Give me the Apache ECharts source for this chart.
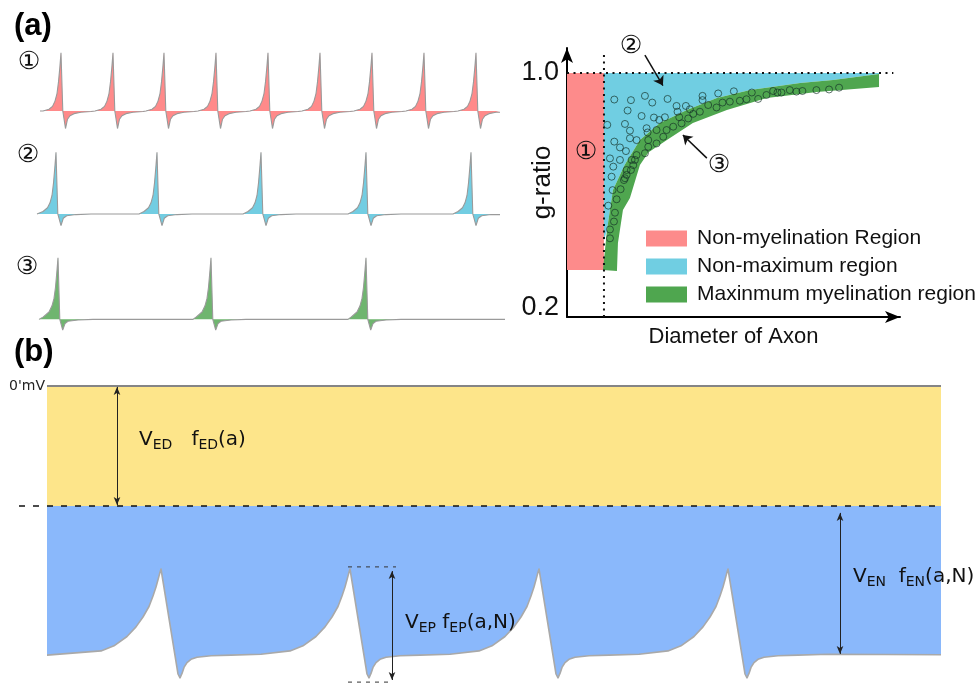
<!DOCTYPE html>
<html><head><meta charset="utf-8">
<script src="https://cdn.jsdelivr.net/npm/echarts@6/dist/echarts.min.js"></script>
<style>html,body{margin:0;padding:0;background:#fff}#c{width:980px;height:684px}</style>
</head><body><div id="c"></div>
<script>
// ---------- (a) left: spike trains (time units, normalised voltage) ----------
const row1Span = [5, 465];
const row1Peaks = [26, 78, 129, 181, 233, 285, 337, 389, 441];
const row1Shape = [[-18,0],[-12,0.03],[-8.5,0.08],[-6,0.17],[-4,0.3],[-2.5,0.5],[-1.2,0.74],[0,1],[1.8,0],[4.5,-0.3],[6.5,-0.14],[9,-0.08],[13,-0.045],[20,-0.022],[30,-0.008]];
const row2Span = [2, 465];
const row2Peaks = [21, 122, 226, 331, 436];
const row2Shape = [[-18,0],[-13,0.04],[-8.5,0.1],[-6,0.18],[-4,0.3],[-2.5,0.5],[-1.2,0.75],[0,1],[1.8,0],[5,-0.19],[7.3,-0.07],[10.7,-0.03],[20,-0.01],[35,0]];
const row3Span = [4, 470];
const row3Peaks = [23, 176, 331];
const row3Shape = [[-18,0],[-14.7,0.04],[-9,0.12],[-6,0.22],[-4,0.34],[-2.5,0.52],[-1.2,0.76],[0,1],[1.8,0],[4.7,-0.175],[7,-0.07],[10,-0.03],[20,-0.01],[35,0]];

// ---------- (a) right: g-ratio vs diameter ----------
const gAxisRange = [0.2, 1.082];
const dAxisRange = [0, 100];
const gTicks = [0.2, 1.0];
const gLimit = 1.0;
const dCut = 11.1;                 // dotted vertical divider
const nonMyelinG = [0.354, 1.0];
const limitLineEnd = 98;
const dividerTop = 1.069;
const bandUpper = [[10.8,0.354],[12.0,0.485],[13.8,0.616],[17.3,0.698],[21.9,0.78],[27.9,0.836],[36,0.879],[45,0.918],[55,0.944],[70,0.967],[79.9,0.977],[93.7,0.997]];
const bandLower = [[15,0.351],[15.3,0.443],[16.8,0.551],[18.9,0.59],[21.9,0.698],[24.5,0.74],[30,0.78],[37.8,0.836],[48,0.879],[60,0.918],[75,0.938],[93.7,0.954]];
const circlesCyan = [[14.2,0.913],[19.2,0.911],[23.4,0.925],[25.6,0.903],[30.2,0.915],[32.9,0.892],[35.7,0.892],[36.9,0.881],[40.7,0.925],[40.7,0.911],[45.4,0.933],[50.1,0.94],[18.2,0.877],[22.4,0.859],[26.1,0.854],[27.7,0.846],[29.4,0.855],[33.2,0.873],[33.7,0.855],[12.1,0.83],[17.4,0.833],[18.9,0.811],[23.9,0.819],[24.2,0.805],[26.9,0.813],[18.9,0.786],[20.9,0.78],[24.4,0.78],[14.2,0.775],[15.9,0.756],[17.7,0.744],[20.9,0.731],[19.4,0.715],[12.9,0.72],[15.9,0.715],[13.9,0.693],[17.9,0.682],[13.4,0.66],[17.4,0.655],[13.7,0.616],[12.4,0.565]];
const circlesGreen = [[12.9,0.487],[12.9,0.458],[14.1,0.513],[14.4,0.542],[14.9,0.586],[16.1,0.619],[17.1,0.649],[17.9,0.666],[19.2,0.682],[19.9,0.698],[20.4,0.715],[23.4,0.737],[24.4,0.758],[26.9,0.769],[28.9,0.791],[29.9,0.813],[31.9,0.824],[34.4,0.835],[36.4,0.851],[37.9,0.866],[39.9,0.873],[42.4,0.895],[44.9,0.887],[46.7,0.903],[48.9,0.906],[51.9,0.909],[53.9,0.914],[55.5,0.936],[57.4,0.915],[59.9,0.928],[61.9,0.941],[63.2,0.936],[64.4,0.936],[66.9,0.944],[68.9,0.939],[70.7,0.941],[74.9,0.944],[78.7,0.946],[81.7,0.952]];
const arrow2 = [[23.4,1.059],[28.8,0.959]];
const arrow3 = [[42,0.721],[34.8,0.797]];
const legendNames = ['Non-myelination Region', 'Non-maximum region', 'Maxinmum myelination region'];

// ---------- (b) membrane potential ----------
const bTimeRange = [0, 894];
const bAxisX = [-28, 896];
const bAxisY = [-99, 2];
const vRest = 0;
const vED = -40;
const bPeaks = [114, 303, 492, 681];
const bStartV = -89.7, bEndV = -89.6;
const bSpikeShape = [[-60,-88.3],[-47,-86.6],[-34,-83.5],[-25,-80.3],[-18,-77],[-12,-73.5],[-8,-70],[-5,-67],[-3,-64.6],[-1.5,-62.7],[0,-61],[1,-61.5],[17,-96],[19,-97.3],[21,-95.8],[23,-93.8],[26,-92.2],[30,-91.1],[36,-90.4],[50,-89.9],[70,-89.7],[100,-89.4]];
const vepTop = -60.3, vepBottom = -98.7, vepDashT = [301, 349], vepArrowT = 345;
const vepArrowV = [-61.7, -98];
const vedArrowT = 70;
const venArrowT = 793, venArrowV = [-42.3, -89.3];

function buildTrain(span, peaks, shape) {
  const pts = [[span[0], 0]];
  peaks.forEach(p => shape.forEach(s => {
    const t = p + s[0];
    if (t > span[0] && t < span[1]) pts.push([t, s[1]]);
  }));
  pts.push([span[1], pts[pts.length - 1][1]]);
  return pts;
}
function buildWave() {
  const pts = [[bTimeRange[0], bStartV]];
  bPeaks.forEach(p => bSpikeShape.forEach(s => pts.push([p + s[0], s[1]])));
  pts.push([bTimeRange[1], bEndV]);
  return pts;
}

const RED = '#fd8b8b', CYAN = '#70cee2', GREEN = '#4fa64f';
const cyanPoly = [[dCut, gLimit], [bandUpper[bandUpper.length - 1][0], gLimit]].concat(bandUpper.slice().reverse().filter(p => p[0] >= dCut), [[dCut, 0.45]]);
const greenPoly = bandUpper.concat(bandLower.slice().reverse());

function polyRender(poly, color) {
  return (params, api) => params.dataIndex ? null : {
    type: 'polygon', shape: { points: poly.map(p => api.coord(p)) }, style: { fill: color }
  };
}
function rectRender(color) {
  return (params, api) => {
    const a = api.coord([api.value(0), api.value(3)]);
    const b = api.coord([api.value(1), api.value(2)]);
    return { type: 'rect', shape: { x: a[0], y: a[1], width: b[0] - a[0], height: b[1] - a[1] }, style: { fill: color } };
  };
}
const hidden = (g, min, max) => ({ gridIndex: g, type: 'value', min, max, show: false });

function trainSeries(idx, data, color) {
  return { type: 'line', xAxisIndex: idx, yAxisIndex: idx, data, symbol: 'none', smooth: false,
    lineStyle: { color: '#9a9a9a', width: 1.1 }, areaStyle: { color, opacity: 1, origin: 0 }, z: 2 };
}

const DV = 'DejaVu Sans, Noto Sans CJK SC';
const subRich = (m, s, pad) => ({
  m: { fontSize: m, fontFamily: 'DejaVu Sans', fill: '#111' },
  s: { fontSize: s, fontFamily: 'DejaVu Sans', fill: '#111', padding: [pad, 0, 0, 0] }
});
function txt(x, y, text, size, opts) {
  return Object.assign({ type: 'text', x, y, z: 100, style: Object.assign({ text, fontSize: size, fontFamily: DV, fill: '#111', align: 'center', verticalAlign: 'middle' }, opts || {}) });
}

const chart = echarts.init(document.getElementById('c'), null, { renderer: 'canvas' });
chart.setOption({
  animation: false,
  backgroundColor: '#fff',
  textStyle: { fontFamily: 'Liberation Sans' },
  grid: [
    { left: 35, top: 49.8, width: 470, height: 90.4 },
    { left: 35, top: 149.2, width: 470, height: 95.6 },
    { left: 35, top: 254.6, width: 470, height: 95.6 },
    { left: 567, top: 48, width: 333, height: 269 },
    { left: 19, top: 380, width: 924, height: 303 }
  ],
  xAxis: [
    hidden(0, 0, 470), hidden(1, 0, 470), hidden(2, 0, 470),
    { gridIndex: 3, type: 'value', min: dAxisRange[0], max: dAxisRange[1],
      axisLine: { show: true, onZero: false, lineStyle: { color: '#000', width: 2 }, symbol: ['none', 'arrow'], symbolSize: [9, 15] },
      axisTick: { show: false }, axisLabel: { show: false }, splitLine: { show: false },
      name: 'Diameter of Axon', nameLocation: 'middle', nameGap: 9, nameMoveOverlap: false,
      nameTextStyle: { fontSize: 22, color: '#111', verticalAlign: 'top', fontFamily: 'Liberation Sans' } },
    hidden(4, bAxisX[0], bAxisX[1])
  ],
  yAxis: [
    hidden(0, -0.5, 1.05), hidden(1, -0.5, 1.05), hidden(2, -0.5, 1.05),
    { gridIndex: 3, type: 'value', min: gAxisRange[0], max: gAxisRange[1],
      axisLine: { show: true, onZero: false, lineStyle: { color: '#000', width: 2 }, symbol: ['none', 'arrow'], symbolSize: [9, 15] },
      axisTick: { show: false }, splitLine: { show: false },
      axisLabel: { customValues: gTicks, margin: 8, fontSize: 27, color: '#111', fontFamily: 'Liberation Sans',
        formatter: v => v < 0.5 ? '{lo|' + v.toFixed(1) + '}' : v.toFixed(1),
        rich: { lo: { fontSize: 27, color: '#111', fontFamily: 'Liberation Sans', padding: [0, 0, 18, 0] } } },
      name: 'g-ratio', nameLocation: 'middle', nameGap: 11, nameRotate: 90, nameMoveOverlap: false,
      nameTextStyle: { fontSize: 26, color: '#111', fontFamily: 'Liberation Sans' } },
    hidden(4, bAxisY[0], bAxisY[1])
  ],
  legend: {
    data: legendNames, orient: 'vertical', left: 646, top: 228, padding: 0, icon: 'rect',
    itemWidth: 41, itemHeight: 16, itemGap: 7, selectedMode: false,
    textStyle: { fontSize: 21, color: '#111', fontFamily: 'Liberation Sans', padding: [0, 0, 0, 5] }
  },
  series: [
    trainSeries(0, buildTrain(row1Span, row1Peaks, row1Shape), '#ff8a8a'),
    trainSeries(1, buildTrain(row2Span, row2Peaks, row2Shape), '#72cde2'),
    trainSeries(2, buildTrain(row3Span, row3Peaks, row3Shape), '#6fb56f'),
    { type: 'custom', name: legendNames[0], xAxisIndex: 3, yAxisIndex: 3, itemStyle: { color: RED },
      data: [[dAxisRange[0], dCut, nonMyelinG[0], nonMyelinG[1]]], encode: { x: [0, 1], y: [2, 3] },
      renderItem: rectRender(RED), z: 1 },
    { type: 'custom', name: legendNames[1], xAxisIndex: 3, yAxisIndex: 3, itemStyle: { color: CYAN },
      data: cyanPoly, encode: { x: 0, y: 1 }, renderItem: polyRender(cyanPoly, CYAN), z: 1 },
    { type: 'custom', name: legendNames[2], xAxisIndex: 3, yAxisIndex: 3, itemStyle: { color: GREEN },
      data: greenPoly, encode: { x: 0, y: 1 }, renderItem: polyRender(greenPoly, GREEN), z: 2 },
    { type: 'line', xAxisIndex: 3, yAxisIndex: 3, symbol: 'none', z: 4,
      data: [[dAxisRange[0], gLimit], [limitLineEnd, gLimit]],
      lineStyle: { color: '#111', width: 2, type: [2, 4.5] } },
    { type: 'line', xAxisIndex: 3, yAxisIndex: 3, symbol: 'none', z: 4,
      data: [[dCut, gAxisRange[0]], [dCut, dividerTop]],
      lineStyle: { color: '#111', width: 2, type: [2, 4.5] } },
    { type: 'scatter', xAxisIndex: 3, yAxisIndex: 3, symbol: 'circle', symbolSize: 7, z: 5,
      data: circlesCyan.concat(circlesGreen),
      itemStyle: { color: 'rgba(0,0,0,0)', borderColor: 'rgba(20,50,40,0.85)', borderWidth: 1 },
      markLine: { silent: true, symbol: ['none', 'arrow'], symbolSize: 9, label: { show: false },
        lineStyle: { color: '#111', width: 1.5, type: 'solid' },
        data: [[{ coord: arrow2[0] }, { coord: arrow2[1] }], [{ coord: arrow3[0] }, { coord: arrow3[1] }]] } },
    // (b)
    { type: 'custom', xAxisIndex: 4, yAxisIndex: 4, data: [[bTimeRange[0], bTimeRange[1], vED, vRest]],
      encode: { x: [0, 1], y: [2, 3] }, renderItem: rectRender('#fde58a'), z: 1 },
    { type: 'line', xAxisIndex: 4, yAxisIndex: 4, symbol: 'none', z: 2, data: buildWave(), smooth: false,
      lineStyle: { color: '#a9a9a9', width: 1.6, join: 'round' }, areaStyle: { color: '#8ab8fb', opacity: 1, origin: vED } },
    { type: 'line', xAxisIndex: 4, yAxisIndex: 4, symbol: 'none', z: 3,
      data: [[bTimeRange[0], vRest], [bTimeRange[1], vRest]], lineStyle: { color: '#858585', width: 2 } },
    { type: 'line', xAxisIndex: 4, yAxisIndex: 4, symbol: 'none', z: 4,
      data: [[bAxisX[0], vED], [bAxisX[1], vED]], lineStyle: { color: '#111', width: 1.5, type: [6, 8] } },
    { type: 'line', xAxisIndex: 4, yAxisIndex: 4, symbol: 'none', z: 4,
      data: [[vepDashT[0], vepTop], [vepDashT[1], vepTop]], lineStyle: { color: '#333', width: 1, type: [4, 5] } },
    { type: 'line', xAxisIndex: 4, yAxisIndex: 4, symbol: 'none', z: 4,
      data: [[vepDashT[0], vepBottom], [vepDashT[1] - 3, vepBottom]], lineStyle: { color: '#333', width: 1, type: [4, 5] },
      markLine: { silent: true, symbol: ['arrow', 'arrow'], symbolSize: [5, 8], label: { show: false },
        lineStyle: { color: '#222', width: 1, type: 'solid' },
        data: [
          [{ coord: [vedArrowT, vRest - 0.3] }, { coord: [vedArrowT, vED + 0.3] }],
          [{ coord: [vepArrowT, vepArrowV[0]] }, { coord: [vepArrowT, vepArrowV[1]] }],
          [{ coord: [venArrowT, venArrowV[0]] }, { coord: [venArrowT, venArrowV[1]] }]
        ] } }
  ],
  graphic: [
    txt(14, 26, '(a)', 31, { fontFamily: 'Liberation Sans', fontWeight: 'bold', align: 'left', fill: '#000' }),
    txt(14, 352, '(b)', 31, { fontFamily: 'Liberation Sans', fontWeight: 'bold', align: 'left', fill: '#000' }),
    txt(29, 62, '①', 25), txt(28, 155, '②', 25), txt(27, 267, '③', 25),
    txt(586, 152, '①', 25), txt(631, 46, '②', 25), txt(719, 165, '③', 25),
    txt(45, 386, "0'mV", 14, { align: 'right', fontFamily: 'DejaVu Sans', fill: '#222' }),
    { type: 'text', x: 139, y: 440, z: 100, style: { text: '{m|V}{s|ED}{m|   f}{s|ED}{m|(a)}', rich: subRich(20, 14, 11), align: 'left', verticalAlign: 'middle' } },
    { type: 'text', x: 405, y: 623, z: 100, style: { text: '{m|V}{s|EP}{m| f}{s|EP}{m|(a,N)}', rich: subRich(20, 14, 11), align: 'left', verticalAlign: 'middle' } },
    { type: 'text', x: 853, y: 577, z: 100, style: { text: '{m|V}{s|EN}{m|  f}{s|EN}{m|(a,N)}', rich: subRich(20, 14, 11), align: 'left', verticalAlign: 'middle' } }
  ]
});
</script></body></html>
